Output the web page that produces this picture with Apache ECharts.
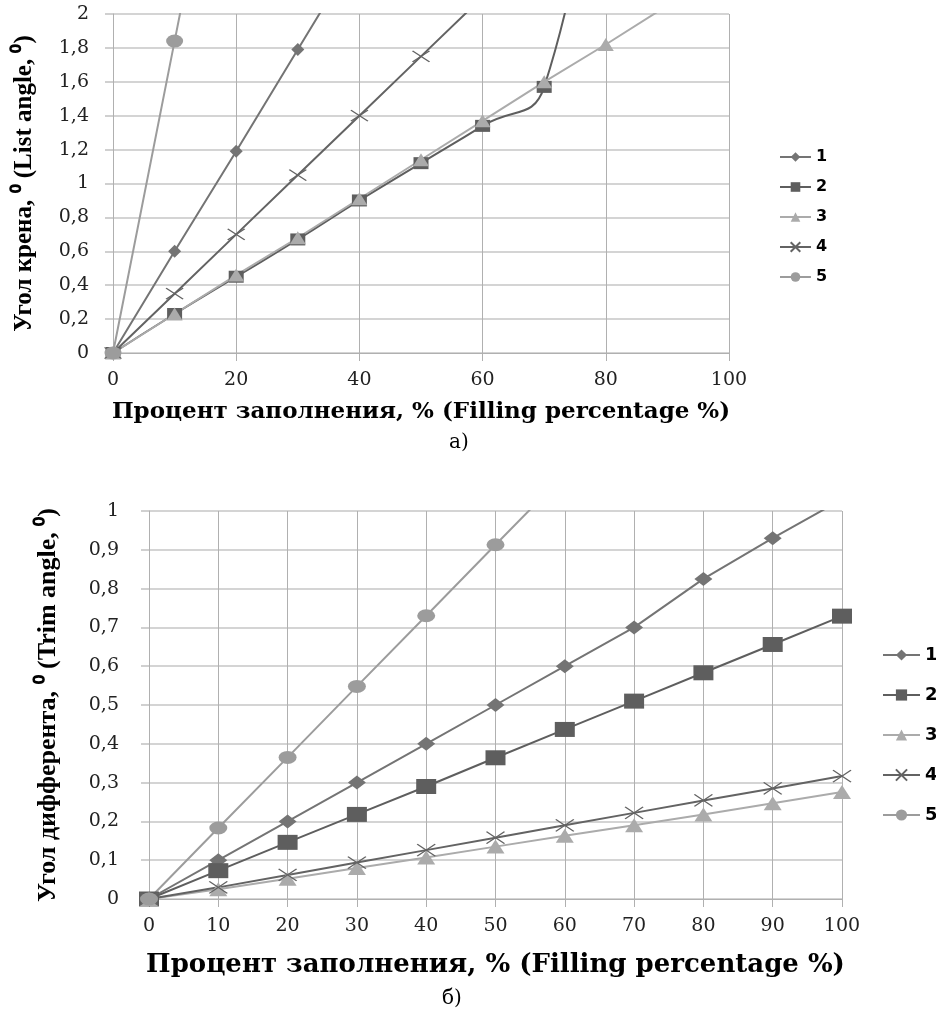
<!DOCTYPE html>
<html>
<head>
    <meta charset="UTF-8">
    <title>Угол крена и дифферента</title>
    <style>
        html, body {margin:0; padding:0; background:#fff;}
        #main {width:936px; height:1012px;}
    </style>
</head>
<body>
<div id="main"></div>
<script src="https://cdn.jsdelivr.net/npm/echarts@6/dist/echarts.min.js"></script>
<script>
    // верхний график а) - угол крена
    var topX = [0, 10, 20, 30, 40, 50, 60, 70, 80, 90];
    var top1 = [0, 0.6, 1.19, 1.79, 2.39];
    var top2 = [0, 0.23, 0.45, 0.67, 0.9, 1.12, 1.34, 1.57, 3.6];
    var top3 = [0, 0.23, 0.46, 0.68, 0.91, 1.14, 1.37, 1.6, 1.82, 2.05];
    var top4 = [0, 0.35, 0.7, 1.05, 1.4, 1.75, 2.1];
    var top5 = [0, 1.84, 3.68];

    // нижний график б) - угол дифферента
    var botX = [0, 10, 20, 30, 40, 50, 60, 70, 80, 90, 100];
    var bot1 = [0, 0.1, 0.2, 0.3, 0.4, 0.5, 0.6, 0.7, 0.825, 0.93, 1.03];
    var bot2 = [0, 0.073, 0.146, 0.218, 0.29, 0.364, 0.437, 0.51, 0.583, 0.656, 0.729];
    var bot3 = [0, 0.025, 0.052, 0.08, 0.107, 0.135, 0.163, 0.19, 0.218, 0.247, 0.276];
    var bot4 = [0, 0.03, 0.062, 0.094, 0.126, 0.158, 0.19, 0.222, 0.254, 0.285, 0.317];
    var bot5 = [0, 0.183, 0.365, 0.548, 0.73, 0.913, 1.095];

    var names = ['1', '2', '3', '4', '5'];
    var xName = 'Процент заполнения, % (Filling percentage %)';
    var yNameTop = 'Угол крена, ⁰ (List angle, ⁰)';
    var yNameBot = 'Угол дифферента, ⁰ (Trim angle, ⁰)';

    var cross = 'path://M0,0L10,10M10,0L0,10';
    var colors = ['#747474', '#5e5e5e', '#ababab', '#636363', '#9c9c9c'];
    var symbols = ['diamond', 'rect', 'triangle', cross, 'circle'];

    function pairs(xs, ys) {
        var out = [];
        for (var i = 0; i < ys.length; i++) out.push([xs[i], ys[i]]);
        return out;
    }

    function line(name, xs, ys, idx, k, size, smooth) {
        return {
            name: name,
            type: 'line',
            xAxisIndex: idx,
            yAxisIndex: idx,
            data: pairs(xs, ys),
            smooth: smooth || false,
            symbol: symbols[k],
            symbolSize: size,
            showAllSymbol: true,
            clip: true,
            lineStyle: {color: colors[k], width: 2},
            itemStyle: {color: colors[k], borderColor: colors[k], borderWidth: k === 3 ? 1.3 : 0}
        };
    }

    var lblFont = {fontFamily: 'DejaVu Serif', fontSize: 19, color: '#222'};

    function xAx(grid, step, gap, fs) {
        return {
            type: 'value', gridIndex: grid, min: 0, max: 100, interval: step,
            name: xName, nameLocation: 'middle', nameGap: gap,
            nameTextStyle: {fontFamily: 'DejaVu Serif', fontWeight: 'bold', fontSize: fs, color: '#000'},
            axisLine: {show: true, lineStyle: {color: '#b0b0b0', width: 1}},
            axisTick: {show: true, length: 8, lineStyle: {color: '#b0b0b0'}},
            axisLabel: Object.assign({margin: 18}, lblFont),
            splitLine: {show: true, lineStyle: {color: '#b0b0b0', width: 1}}
        };
    }

    function yAx(grid, max, step, gap, nm, margin, fs) {
        return {
            type: 'value', gridIndex: grid, min: 0, max: max, interval: step,
            name: nm, nameLocation: 'middle', nameGap: gap,
            nameTextStyle: {fontFamily: 'Liberation Serif', fontWeight: 'bold', fontSize: fs, color: '#000'},
            axisLine: {show: true, lineStyle: {color: '#b0b0b0', width: 1}},
            axisTick: {show: true, length: 8, lineStyle: {color: '#d0d0d0', width: 2}},
            axisLabel: Object.assign({
                margin: margin,
                formatter: function (v) { return String(Math.round(v * 10) / 10).replace('.', ','); }
            }, lblFont),
            splitLine: {show: true, lineStyle: {color: '#d4d4d4', width: 2}}
        };
    }

    var option = {
        backgroundColor: '#fff',
        animation: false,
        title: [
            {text: 'а)', left: 444, top: 428, textStyle: {fontFamily: 'DejaVu Serif', fontWeight: 'normal', fontSize: 20, color: '#000'}},
            {text: 'б)', left: 437, top: 984, textStyle: {fontFamily: 'DejaVu Serif', fontWeight: 'normal', fontSize: 20, color: '#000'}}
        ],
        legend: [
            {
                data: names, orient: 'vertical', left: 774, top: 144,
                itemWidth: 31, itemHeight: 12, itemGap: 14,
                textStyle: {fontFamily: 'DejaVu Sans', fontWeight: 'bold', color: '#000', fontSize: 16, lineHeight: 16},
                selectedMode: false
            },
            {
                data: names.map(function (n) { return {name: n + ' '}; }), orient: 'vertical', left: 877, top: 641,
                itemWidth: 37, itemHeight: 14, itemGap: 22,
                textStyle: {fontFamily: 'DejaVu Sans', fontWeight: 'bold', color: '#000', fontSize: 18, lineHeight: 18},
                formatter: function (n) { return n.trim(); },
                selectedMode: false
            }
        ],
        grid: [
            {left: 113, top: 14, width: 616, height: 339},
            {left: 149, top: 511, width: 693, height: 388}
        ],
        xAxis: [xAx(0, 20, 48, 23), xAx(1, 10, 53, 26)],
        yAxis: [yAx(0, 2, 0.2, 76, yNameTop, 24, 25), yAx(1, 1, 0.1, 88, yNameBot, 30, 26)],
        series: [
            line('1', topX, top1, 0, 0, 13),
            line('2', topX, top2, 0, 1, [15, 12], true),
            line('3', topX, top3, 0, 2, [16, 13]),
            line('4', topX, top4, 0, 3, [17, 11]),
            line('5', topX, top5, 0, 4, [17, 13]),
            line('1 ', botX, bot1, 1, 0, [18, 14]),
            line('2 ', botX, bot2, 1, 1, [20, 15]),
            line('3 ', botX, bot3, 1, 2, [18, 14]),
            line('4 ', botX, bot4, 1, 3, [18, 12]),
            line('5 ', botX, bot5, 1, 4, [18, 13])
        ]
    };

    var myChart = echarts.init(document.getElementById('main'));
    myChart.setOption(option);
</script>
</body>
</html>
